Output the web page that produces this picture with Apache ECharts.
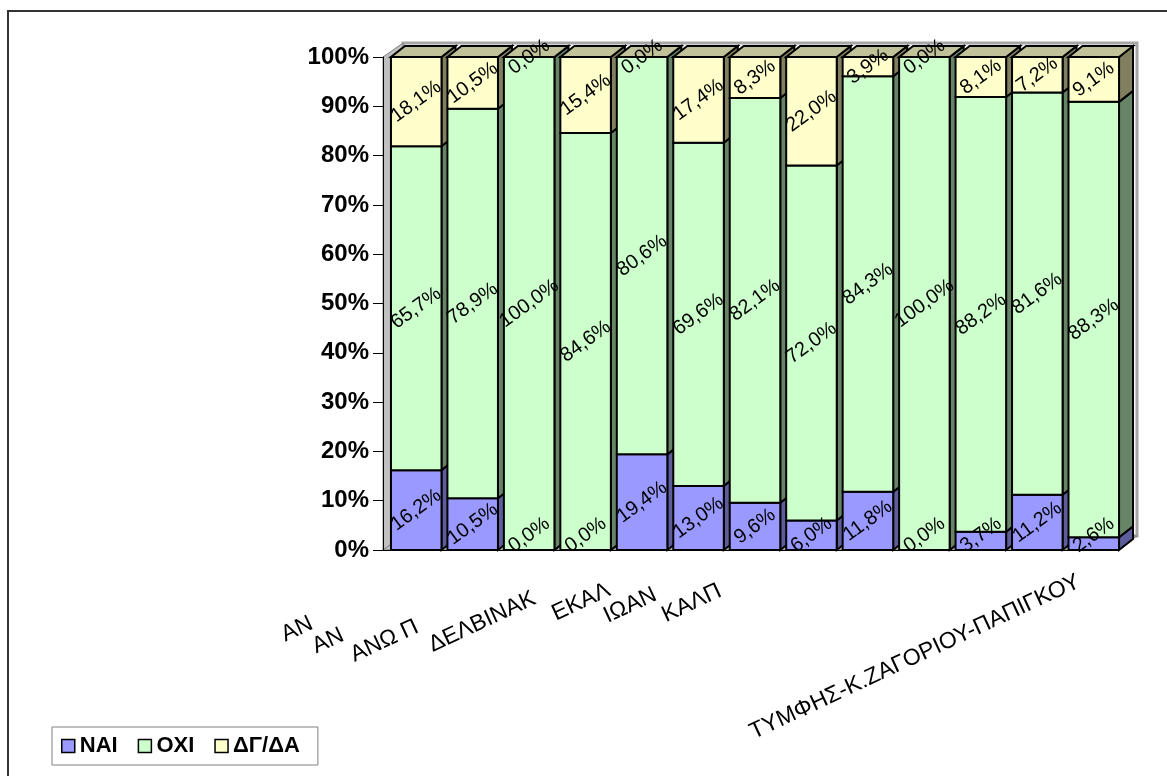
<!DOCTYPE html>
<html lang="el">
<head>
  <meta charset="UTF-8">
  <title>ΝΑΙ / ΟΧΙ / ΔΓ-ΔΑ</title>
  <style>
    body { margin: 0; padding: 0; background: #fff; }
    #main { width: 1167px; height: 776px; }
  </style>
</head>
<body>
  <div id="main"></div>
</body>
</html>
<script src="https://cdn.jsdelivr.net/npm/echarts@6/dist/echarts.min.js"></script>
<script>

// category labels as they show on the picture (cut off there)
var categories = ['ΑΝ', 'ΑΝ', 'ΑΝΩ Π', 'ΔΕΛΒΙΝΑΚ', 'ΕΚΑΛ', 'ΙΩΑΝ', 'ΚΑΛΠ', '', '', '', '', '', 'ΤΥΜΦΗΣ-Κ.ΖΑΓΟΡΙΟΥ-ΠΑΠΙΓΚΟΥ']
var seriesNames = ['ΝΑΙ', 'ΟΧΙ', 'ΔΓ/ΔΑ']
var yesValues = [16.2, 10.5, 0.0, 0.0, 19.4, 13.0, 9.6, 6.0, 11.8, 0.0, 3.7, 11.2, 2.6]
var noValues = [65.7, 78.9, 100.0, 84.6, 80.6, 69.6, 82.1, 72.0, 84.3, 100.0, 88.2, 81.6, 88.3]
var dkValues = [18.1, 10.5, 0.0, 15.4, 0.0, 17.4, 8.3, 22.0, 3.9, 0.0, 8.1, 7.2, 9.1]
var yTicks = [0, 10, 20, 30, 40, 50, 60, 70, 80, 90, 100]

// look
var frontColors = ['#9999ff', '#ccffcc', '#ffffcc']
var sideColors = ['#5d5d9c', '#678467', '#817f5f']
var topColor = '#c2c29a'
var labelPad = [[110, 0], [138, 0], [118, 12], [51, 10], [31, 6], [42, 70], [33, 48], [0, 0], [0, 0], [0, 0], [0, 0], [0, 0], [11, 8]]
var FONT = '"Liberation Sans", Arial, sans-serif'
var DX = 14, DY = 11, SHIFT = 5
var WX = 20, WY = 14

var allValues = [yesValues, noValues, dkValues]

function fmt(v) {
  return v.toFixed(1).replace('.', ',') + '%'
}

// stacked 100% data: [index, from, to, value]
function stackData(sIdx) {
  return categories.map(function (c, i) {
    var total = yesValues[i] + noValues[i] + dkValues[i]
    var from = 0
    for (var k = 0; k < sIdx; k++) from += allValues[k][i]
    var to = from + allValues[sIdx][i]
    return [i, from / total * 100, to / total * 100, allValues[sIdx][i]]
  })
}

function barRenderer(sIdx) {
  return function (params, api) {
    var i = api.value(0)
    var band = api.size([1, 0])[0]
    var bw = band * 0.895
    var pb = api.coord([i, api.value(1)])
    var pt = api.coord([i, api.value(2)])
    var l = pb[0] - bw / 2 + SHIFT
    var r = l + bw
    var yb = pb[1], yt = pt[1]
    var bottom = params.coordSys.y + params.coordSys.height
    var z = i * 10
    var line = { stroke: '#000', lineWidth: 2 }
    var children = [
      {
        type: 'polygon', z2: z + 1,
        shape: { points: [[r, yb], [r, yt], [r + DX, yt - DY], [r + DX, yb - DY]] },
        style: Object.assign({ fill: sideColors[sIdx] }, line)
      },
      {
        type: 'rect', z2: z + 2,
        shape: { x: l, y: yt, width: bw, height: yb - yt },
        style: Object.assign({ fill: frontColors[sIdx] }, line)
      }
    ]
    if (sIdx === seriesNames.length - 1) {
      children.push({
        type: 'polygon', z2: z + 1,
        shape: { points: [[l, yt], [l + DX, yt - DY], [r + DX, yt - DY], [r, yt]] },
        style: Object.assign({ fill: topColor }, line)
      })
    }
    children.push({
      type: 'text', z2: 1000,
      x: (l + r) / 2,
      y: Math.min((yt + yb) / 2, bottom - 15),
      rotation: 36 * Math.PI / 180,
      style: {
        text: fmt(api.value(3)),
        fill: '#000',
        fontSize: 20,
        fontFamily: FONT,
        align: 'center',
        verticalAlign: 'middle'
      }
    })
    return { type: 'group', children: children }
  }
}

// back wall, left wall and floor of the 3d box
function wallRenderer(params, api) {
  var cs = params.coordSys
  var x0 = cs.x, x1 = cs.x + cs.width, y0 = cs.y, y1 = cs.y + cs.height
  return {
    type: 'group',
    children: [
      {
        type: 'polygon',
        shape: { points: [[x0 + WX, y0 - WY], [x1 + WX, y0 - WY], [x1 + WX, y1 - WY], [x0 + WX, y1 - WY]] },
        style: { fill: '#fff', stroke: '#a6a6a6', lineWidth: 3 }
      },
      {
        type: 'polygon',
        shape: { points: [[x0, y0], [x0 + WX, y0 - WY], [x0 + WX, y1 - WY], [x0, y1]] },
        style: { fill: '#c0c0c0', stroke: '#808080', lineWidth: 1 }
      },
      {
        type: 'polygon',
        shape: { points: [[x0, y1], [x0 + WX, y1 - WY], [x1 + WX, y1 - WY], [x1, y1]] },
        style: { fill: '#c0c0c0', stroke: '#808080', lineWidth: 1 }
      }
    ]
  }
}

var chart = echarts.init(document.getElementById('main'))

var series = [{
  type: 'custom',
  name: 'walls',
  z: 1,
  silent: true,
  renderItem: wallRenderer,
  data: [[0, 0]],
  encode: { x: 0, y: 1 }
}]
seriesNames.forEach(function (name, s) {
  series.push({
    type: 'custom',
    name: name,
    z: 2,
    itemStyle: { color: frontColors[s] },
    renderItem: barRenderer(s),
    encode: { x: 0, y: [1, 2] },
    data: stackData(s)
  })
})

var option = {
  animation: false,
  textStyle: { fontFamily: FONT },
  graphic: [{
    type: 'rect',
    shape: { x: 8, y: 11, width: 1200, height: 800 },
    style: { fill: 'none', stroke: '#333', lineWidth: 2 },
    z: -10
  }],
  grid: { left: 383, right: 50, top: 57, bottom: 226 },
  legend: {
    left: 52,
    top: 727,
    orient: 'horizontal',
    itemGap: 20,
    itemWidth: 13,
    itemHeight: 13,
    icon: 'rect',
    padding: [8, 18, 8, 9],
    backgroundColor: '#fff',
    borderColor: '#808080',
    borderWidth: 1,
    itemStyle: { borderColor: '#000', borderWidth: 1.5 },
    textStyle: { fontSize: 22, fontWeight: 'bold', color: '#000', fontFamily: FONT },
    data: seriesNames
  },
  xAxis: {
    type: 'category',
    z: 5,
    data: categories.map(function (c, i) {
      return { value: c, textStyle: { padding: [labelPad[i][1], labelPad[i][0], 0, 0] } }
    }),
    axisLine: { lineStyle: { color: '#000', width: 1 } },
    axisTick: { interval: 1, length: 12, lineStyle: { color: '#000' } },
    axisLabel: {
      interval: 0,
      rotate: 25,
      margin: 26,
      fontSize: 23,
      color: '#000',
      fontFamily: FONT
    }
  },
  yAxis: {
    type: 'value',
    z: 5,
    min: yTicks[0],
    max: yTicks[yTicks.length - 1],
    interval: 10,
    axisLine: { show: true, lineStyle: { color: '#000', width: 1 } },
    axisTick: { show: true, length: 10, lineStyle: { color: '#000' } },
    splitLine: { show: false },
    axisLabel: {
      formatter: '{value}%',
      fontSize: 24,
      fontWeight: 'bold',
      color: '#000',
      margin: 14,
      fontFamily: FONT
    }
  },
  series: series
}
chart.setOption(option)

</script>
